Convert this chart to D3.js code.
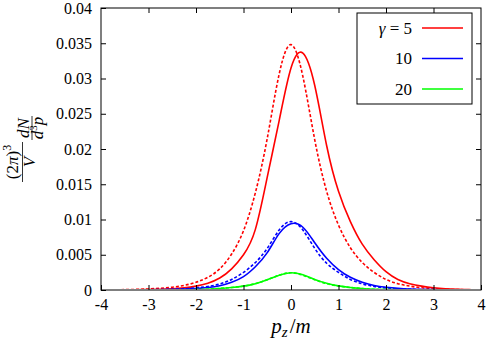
<!DOCTYPE html>
<html>
<head>
<meta charset="utf-8">
<script src="https://cdn.jsdelivr.net/npm/d3@7"></script>
<style>
body { margin: 0; background: #fff; }
svg { display: block; }
svg text { font-family: 'Liberation Serif', 'DejaVu Serif', serif; }
</style>
</head>
<body>
<svg id="chart" width="488" height="339"></svg>
<script>
// momentum grid (p_z / m)
var pz = [-4, -3.75, -3.5, -3.25, -3, -2.75, -2.5, -2.25, -2, -1.75, -1.5, -1.25, -1, -0.75, -0.5, -0.25,
          0, 0.25, 0.5, 0.75, 1, 1.25, 1.5, 1.75, 2, 2.25, 2.5, 2.75, 3, 3.25, 3.5, 3.75, 4];

// gamma = 5
var redSolid = [0.00001, 0.00001, 0.00002, 0.00004, 0.00006, 0.0001, 0.00017, 0.0003, 0.00055, 0.00097, 0.0017, 0.003, 0.0050, 0.0086, 0.0160, 0.0240,
                0.0315, 0.0336, 0.0290, 0.0205, 0.0140, 0.0097, 0.0065, 0.0043, 0.0026, 0.0015, 0.0009, 0.00055, 0.00032, 0.00018, 0.0001, 0.00005, 0.00003];
var redDashed = [0.00002, 0.00003, 0.00005, 0.00009, 0.00015, 0.00025, 0.0004, 0.00065, 0.0011, 0.0018, 0.003, 0.0051, 0.0084, 0.0138, 0.0215, 0.0306,
                 0.0348, 0.0303, 0.0213, 0.0140, 0.0092, 0.0060, 0.0039, 0.0025, 0.0015, 0.0009, 0.00055, 0.00032, 0.00018, 0.0001, 0.00006, 0.00003, 0.00002];
// gamma = 10
var blueSolid = [0, 0.000003, 0.000006, 0.00001, 0.00002, 0.00004, 0.00007, 0.00012, 0.0002, 0.00035, 0.0006, 0.0011, 0.0019, 0.0033, 0.0053, 0.0080,
                 0.0094, 0.0089, 0.0067, 0.0045, 0.0029, 0.0018, 0.0011, 0.00065, 0.0004, 0.00024, 0.00014, 0.00008, 0.00005, 0.00003, 0.00002, 0.00001, 0.000005];
var blueDashed = [0.000005, 0.000007, 0.00001, 0.00002, 0.00004, 0.00006, 0.0001, 0.00017, 0.0003, 0.0005, 0.00085, 0.0015, 0.0025, 0.0039, 0.0059, 0.0085,
                  0.0097, 0.0085, 0.0059, 0.0038, 0.0025, 0.0015, 0.00088, 0.0005, 0.0003, 0.00017, 0.0001, 0.00006, 0.00004, 0.00002, 0.00001, 0.000007, 0.000005];
// gamma = 20
var greenSolid = [0, 0, 0.000002, 0.000003, 0.000005, 0.00001, 0.00002, 0.00003, 0.00005, 0.0001, 0.00021, 0.00035, 0.00055, 0.0009, 0.00145, 0.0021,
                  0.00245, 0.00215, 0.0015, 0.00095, 0.00058, 0.00036, 0.00021, 0.00011, 0.00006, 0.00003, 0.00002, 0.00001, 0.000005, 0.000003, 0.000002, 0, 0];
var greenDashed = [0, 0, 0.000002, 0.000003, 0.000005, 0.00001, 0.00002, 0.00003, 0.00005, 0.0001, 0.00022, 0.00036, 0.00056, 0.0009, 0.00146, 0.0021,
                   0.00245, 0.0021, 0.00146, 0.0009, 0.00056, 0.00035, 0.0002, 0.0001, 0.00005, 0.00003, 0.00002, 0.00001, 0.000005, 0.000003, 0.000002, 0, 0];

var xTicks = [-4, -3, -2, -1, 0, 1, 2, 3, 4];
var yTicks = [0, 0.005, 0.01, 0.015, 0.02, 0.025, 0.03, 0.035, 0.04];
var legendLabels = ['5', '10', '20'];

(function() {
var svg = d3.select('#chart');
var left = 101, right = 481, top = 8, bottom = 290;

var x = d3.scaleLinear().domain([-4, 4]).range([left, right]);
var y = d3.scaleLinear().domain([0, 0.04]).range([bottom, top]);

var series = [
  {vals: redSolid, color: '#ff0000', dash: null},
  {vals: redDashed, color: '#ff0000', dash: '3,2'},
  {vals: blueSolid, color: '#0000ff', dash: null},
  {vals: blueDashed, color: '#0000ff', dash: '3,2'},
  {vals: greenDashed, color: '#00ff00', dash: '3,2'},
  {vals: greenSolid, color: '#00ff00', dash: null}
];

svg.append('defs').append('clipPath').attr('id', 'plotclip')
  .append('rect').attr('x', left).attr('y', top - 1).attr('width', right - left).attr('height', bottom - top);

var line = d3.line()
  .x(function(d){ return x(d[0]); })
  .y(function(d){ return y(d[1]); })
  .curve(d3.curveNatural);

svg.append('g').attr('clip-path', 'url(#plotclip)')
  .selectAll('path')
  .data(series)
  .enter()
  .append('path')
  .attr('fill', 'none')
  .attr('stroke', function(s){ return s.color; })
  .attr('stroke-width', 1.6)
  .attr('stroke-dasharray', function(s){ return s.dash; })
  .attr('d', function(s){ return line(pz.map(function(p, i){ return [p, s.vals[i]]; })); });

// axes, ticks on all four sides pointing inward
function styleAxis(g) {
  g.select('.domain').remove();
  g.attr('font-family', null).attr('font-size', 16);
  g.selectAll('line').attr('stroke', '#000');
  g.selectAll('text').attr('fill', '#000');
}
svg.append('g').attr('transform', 'translate(0,' + bottom + ')')
  .call(d3.axisBottom(x).tickValues(xTicks).tickSize(-5).tickPadding(9)
    .tickFormat(function(d){ return String(d); }))
  .call(styleAxis);
svg.append('g').attr('transform', 'translate(0,' + top + ')')
  .call(d3.axisTop(x).tickValues(xTicks.slice(1, -1)).tickSize(-5).tickFormat(''))
  .call(styleAxis);
svg.append('g').attr('transform', 'translate(' + left + ',0)')
  .call(d3.axisLeft(y).tickValues(yTicks).tickSize(-5).tickPadding(9)
    .tickFormat(function(d){ return String(d); }))
  .call(styleAxis);
svg.append('g').attr('transform', 'translate(' + right + ',0)')
  .call(d3.axisRight(y).tickValues(yTicks.slice(1, -1)).tickSize(-5).tickFormat(''))
  .call(styleAxis);

svg.append('rect')
  .attr('x', left).attr('y', top)
  .attr('width', right - left).attr('height', bottom - top)
  .attr('fill', 'none').attr('stroke', '#000').attr('stroke-width', 1);

// x label  p_z / m
var xl = svg.append('text')
  .attr('x', x(0)).attr('y', 333)
  .attr('text-anchor', 'middle')
  .attr('font-size', 21);
xl.append('tspan').attr('font-style', 'italic').text('p');
xl.append('tspan').attr('font-style', 'italic').attr('font-size', 15).attr('dy', 4).text('z');
xl.append('tspan').attr('dy', -4).attr('dx', 2).text('/');
xl.append('tspan').attr('font-style', 'italic').text('m');

// y label  (2pi)^3 / V  dN / d^3p, rotated
var yl = svg.append('g').attr('transform', 'rotate(-90)').attr('font-size', 17);
function frac(cx, numY, barY, denY, barW, num, den) {
  var n = yl.append('text').attr('x', -cx).attr('y', numY).attr('text-anchor', 'middle');
  num(n);
  yl.append('line')
    .attr('x1', -cx - barW / 2).attr('x2', -cx + barW / 2)
    .attr('y1', barY).attr('y2', barY)
    .attr('stroke', '#000').attr('stroke-width', 0.8);
  var d = yl.append('text').attr('x', -cx).attr('y', denY).attr('text-anchor', 'middle');
  den(d);
}
frac(162, 18, 22.5, 35, 40,
  function(t){
    t.append('tspan').text('(2');
    t.append('tspan').attr('font-style', 'italic').text('π');
    t.append('tspan').text(')');
    t.append('tspan').attr('font-size', 12).attr('dy', -7).text('3');
  },
  function(t){ t.append('tspan').attr('font-style', 'italic').text('V'); });
frac(128, 29, 32, 43, 24,
  function(t){ t.append('tspan').attr('font-style', 'italic').text('dN'); },
  function(t){
    t.append('tspan').attr('font-style', 'italic').text('d');
    t.append('tspan').attr('font-size', 11).attr('dy', -6).text('3');
    t.append('tspan').attr('font-style', 'italic').attr('dy', 6).text('p');
  });

// legend
var lg = svg.append('g');
lg.append('rect')
  .attr('x', 357).attr('y', 13).attr('width', 115).attr('height', 91)
  .attr('fill', '#fff').attr('stroke', '#000').attr('stroke-width', 1);
var ly = d3.scalePoint().domain(legendLabels).range([28, 89]);
var colors = ['#ff0000', '#0000ff', '#00ff00'];
legendLabels.forEach(function(lab, i){
  var t = lg.append('text')
    .attr('x', 412).attr('y', ly(lab) + 5.5)
    .attr('text-anchor', 'end').attr('font-size', 17);
  if (i === 0) {
    t.append('tspan').attr('font-style', 'italic').text('γ');
    t.append('tspan').text(' = ' + lab);
  } else {
    t.text(lab);
  }
  lg.append('line')
    .attr('x1', 422).attr('x2', 463)
    .attr('y1', ly(lab)).attr('y2', ly(lab))
    .attr('stroke', colors[i]).attr('stroke-width', 1.6);
});
})();
</script>
</body>
</html>
